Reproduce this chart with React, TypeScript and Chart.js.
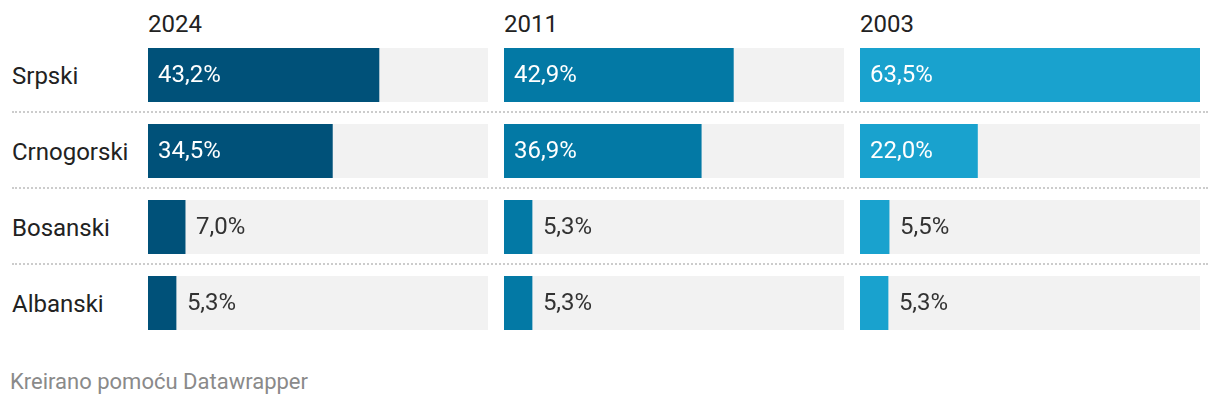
import React, { useEffect, useRef } from "react";
import { Chart, registerables } from "chart.js";

Chart.register(...registerables);

const languages = ["Srpski", "Crnogorski", "Bosanski", "Albanski"];
const years = ["2024", "2011", "2003"];
const values2024 = [43.2, 34.5, 7.0, 5.3];
const values2011 = [42.9, 36.9, 5.3, 5.3];
const values2003 = [63.5, 22.0, 5.5, 5.3];
const seriesValues = [values2024, values2011, values2003];
const colors = ["#005179", "#0379a5", "#19a2ce"];
const scaleMax = 63.5;

const FONT = "Roboto, 'Noto Sans', sans-serif";
const FS = 24;
const PANEL_X = [148, 504, 860];
const PANEL_W = 340;
const CHART_TOP = 37;
const ROW_H = 76;
const CHART_H = ROW_H * 4;

const fmt = (v: number) => v.toFixed(1).replace(".", ",") + "%";

const trackAndLabels = {
  id: "trackAndLabels",
  beforeDatasetsDraw(chart: any) {
    const ctx = chart.ctx;
    const meta = chart.getDatasetMeta(0);
    const area = chart.chartArea;
    ctx.save();
    ctx.fillStyle = "#f2f2f2";
    meta.data.forEach((bar: any) => {
      const p = bar.getProps(["y", "height"], true);
      ctx.fillRect(area.left, p.y - p.height / 2, area.right - area.left, p.height);
    });
    ctx.restore();
  },
  afterDatasetsDraw(chart: any) {
    const ctx = chart.ctx;
    const meta = chart.getDatasetMeta(0);
    const data = chart.data.datasets[0].data as number[];
    ctx.save();
    ctx.font = `400 ${FS}px ${FONT}`;
    ctx.textBaseline = "middle";
    ctx.textAlign = "left";
    meta.data.forEach((bar: any, i: number) => {
      const p = bar.getProps(["x", "y", "base"], true);
      const txt = fmt(data[i]);
      const w = ctx.measureText(txt).width;
      const barW = p.x - p.base;
      if (barW > w + 20) {
        ctx.fillStyle = "#ffffff";
        ctx.fillText(txt, p.base + 10, p.y + 1);
      } else {
        ctx.fillStyle = "#333333";
        ctx.fillText(txt, p.x + 10.5, p.y + 1);
      }
    });
    ctx.restore();
  },
};

function Panel({ values, color }: { values: number[]; color: string }) {
  const ref = useRef<HTMLCanvasElement | null>(null);
  useEffect(() => {
    if (!ref.current) return;
    const chart = new Chart(ref.current, {
      type: "bar",
      data: {
        labels: languages,
        datasets: [
          {
            data: values,
            backgroundColor: color,
            borderWidth: 0,
            barPercentage: 1,
            categoryPercentage: 54 / 76,
          },
        ],
      },
      options: {
        indexAxis: "y",
        responsive: false,
        animation: false,
        devicePixelRatio: 1,
        layout: { padding: 0 },
        plugins: { legend: { display: false }, tooltip: { enabled: false } },
        scales: {
          x: { display: false, min: 0, max: scaleMax },
          y: { display: false },
        },
      },
      plugins: [trackAndLabels],
    });
    return () => chart.destroy();
  }, [values, color]);
  return (
    <canvas
      ref={ref}
      width={PANEL_W}
      height={CHART_H}
      style={{ width: PANEL_W, height: CHART_H, display: "block" }}
    />
  );
}

export default function App() {
  return (
    <div
      style={{
        position: "absolute",
        left: 0,
        top: 0,
        width: 1220,
        height: 406,
        background: "#fff",
        fontFamily: FONT,
        color: "#222",
        overflow: "hidden",
      }}
    >
      {years.map((y, i) => (
        <div
          key={y}
          style={{ position: "absolute", left: PANEL_X[i], top: 9, fontSize: FS, lineHeight: "30px" }}
        >
          {y}
        </div>
      ))}
      {languages.map((l, i) => (
        <div
          key={l}
          style={{
            position: "absolute",
            left: 12,
            top: CHART_TOP + i * ROW_H + ROW_H / 2 - 15 + 1,
            fontSize: FS,
            lineHeight: "30px",
          }}
        >
          {l}
        </div>
      ))}
      {[1, 2, 3].map((i) => (
        <div
          key={i}
          style={{
            position: "absolute",
            left: 12,
            width: 1196,
            top: CHART_TOP + i * ROW_H - 2,
            height: 0,
            borderTop: "2px dotted #cccccc",
          }}
        />
      ))}
      {seriesValues.map((vals, i) => (
        <div key={i} style={{ position: "absolute", left: PANEL_X[i], top: CHART_TOP }}>
          <Panel values={vals} color={colors[i]} />
        </div>
      ))}
      <div
        style={{
          position: "absolute",
          left: 10,
          top: 368,
          fontSize: 22,
          lineHeight: "28px",
          color: "#8a8a8a",
        }}
      >
        Kreirano pomoću Datawrapper
      </div>
    </div>
  );
}
